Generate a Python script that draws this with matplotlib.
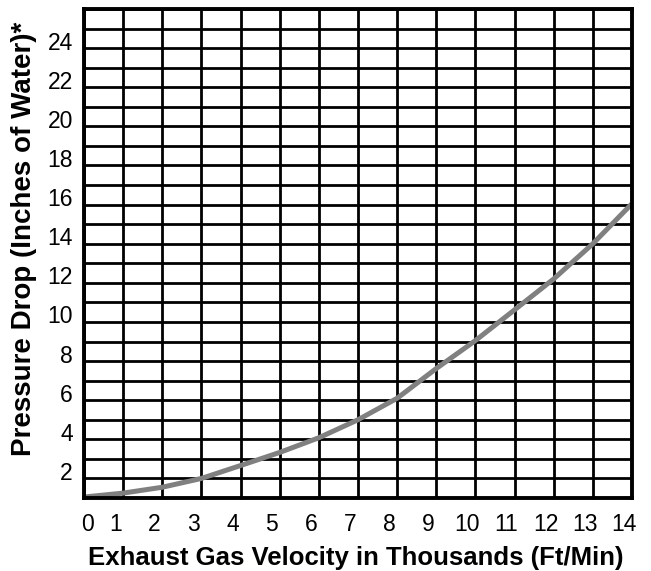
import matplotlib
matplotlib.use("Agg")
import matplotlib.pyplot as plt
import matplotlib.transforms as mtransforms

# ---- data ----
velocity = [0, 1, 2, 3, 4, 5, 6, 7, 8, 9, 10, 11, 12, 13, 14]
pressure_drop = [0.05, 0.25, 0.55, 1.0, 1.66, 2.33, 3.08, 4.0, 5.1, 6.62,
                 8.05, 9.62, 11.2, 13.0, 15.05]
x_tick_values = list(range(0, 15))
y_label_values = list(range(2, 25, 2))
y_grid_values = list(range(0, 26))

x_title = "Exhaust Gas Velocity in Thousands (Ft/Min)"
y_title = "Pressure Drop (Inches of Water)*"

plt.rcParams["font.family"] = ["Liberation Sans", "DejaVu Sans"]

W, H = 651, 571
fig = plt.figure(figsize=(W / 100, H / 100), dpi=100)
fig.patch.set_facecolor("white")
left, right, top, bottom = 84, 632, 9, 498
ax = fig.add_axes([left / W, 1 - bottom / H, (right - left) / W, (bottom - top) / H])

ax.set_xlim(0, 14)
ax.set_ylim(0, 25)

ax.set_xticks(x_tick_values)
ax.set_xticklabels([str(v) for v in x_tick_values])
ax.set_yticks(y_grid_values)
ax.set_yticklabels([str(v) if v in y_label_values else "" for v in y_grid_values])

ax.tick_params(axis="both", length=0, labelsize=16.5, colors="black")
ax.tick_params(axis="x", pad=10.5)
ax.tick_params(axis="y", pad=8)

ax.grid(True, color="black", linewidth=2.0)
ax.set_axisbelow(True)
for sp in ax.spines.values():
    sp.set_linewidth(2.8)
    sp.set_color("black")
    sp.set_zorder(4)

# visual offsets of tick labels as in the reference
for lbl in ax.get_yticklabels():
    lbl.set_transform(lbl.get_transform() +
                      mtransforms.ScaledTranslation(0, -12 / 100, fig.dpi_scale_trans))
for i, lbl in enumerate(ax.get_xticklabels()):
    dx = 3 if i == 0 else -8
    lbl.set_transform(lbl.get_transform() +
                      mtransforms.ScaledTranslation(dx / 100, 0, fig.dpi_scale_trans))

ax.plot(velocity, pressure_drop, color="#808080", linewidth=3.6,
        solid_joinstyle="round", solid_capstyle="butt", clip_on=False, zorder=3)

fig.text(356 / W, 1 - 565 / H, x_title, ha="center", va="baseline",
         fontsize=18.5, fontweight="bold")
fig.text(24 / W, 1 - 239 / H, y_title, ha="center", va="center",
         rotation=90, fontsize=20, fontweight="bold")

fig.savefig("out.png", dpi=100, facecolor="white")
